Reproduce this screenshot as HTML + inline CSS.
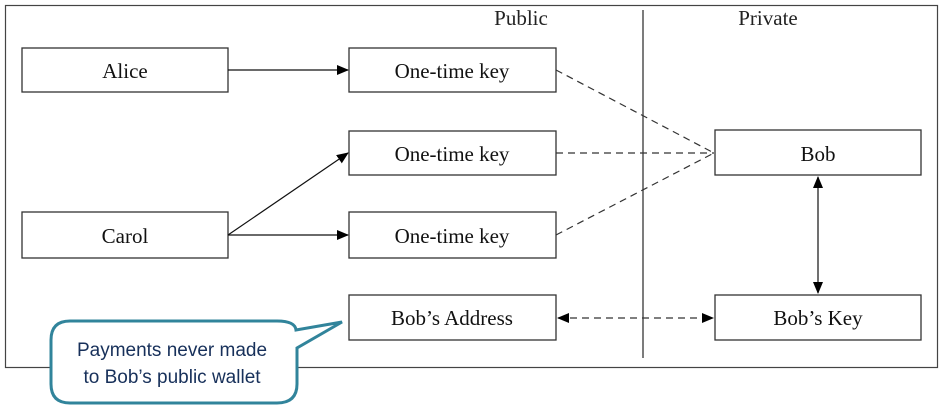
<!DOCTYPE html>
<html><head><style>body{margin:0;background:#fff}</style></head><body>
<svg width="942" height="410" xmlns="http://www.w3.org/2000/svg" font-family="Liberation Serif, serif" font-size="21" fill="none">
<defs><marker id="a" markerWidth="12" markerHeight="10" refX="11" refY="5" orient="auto" markerUnits="userSpaceOnUse"><path d="M0,0 L12,5 L0,10 Z" fill="#000"/></marker>
<marker id="s" markerWidth="12" markerHeight="10" refX="1" refY="5" orient="auto" markerUnits="userSpaceOnUse"><path d="M12,0 L0,5 L12,10 Z" fill="#000"/></marker></defs>
<rect x="5.5" y="5.5" width="932" height="362" stroke="#444" stroke-width="1.2"/>
<line x1="643" y1="10" x2="643" y2="358" stroke="#444" stroke-width="1.4"/>
<g fill="#222" text-anchor="middle"><text x="521" y="25">Public</text><text x="768" y="25">Private</text></g>
<g stroke="#333" stroke-width="1.3">
<rect x="22" y="48" width="206" height="44"/><rect x="22" y="212" width="206" height="46"/>
<rect x="349" y="48" width="207" height="44"/><rect x="349" y="131" width="207" height="44"/>
<rect x="349" y="212" width="207" height="46"/><rect x="349" y="295" width="207" height="45"/>
<rect x="715" y="130" width="206" height="45"/><rect x="715" y="295" width="206" height="45"/>
</g>
<g fill="#111" text-anchor="middle">
<text x="125" y="78">Alice</text><text x="125" y="243">Carol</text>
<text x="452" y="78">One-time key</text><text x="452" y="161">One-time key</text>
<text x="452" y="243">One-time key</text><text x="452" y="325">Bob’s Address</text>
<text x="818" y="161">Bob</text><text x="818" y="325">Bob’s Key</text>
</g>
<g stroke="#111" stroke-width="1.2">
<line x1="228" y1="70" x2="348" y2="70" marker-end="url(#a)"/>
<line x1="228" y1="235" x2="348" y2="153" marker-end="url(#a)"/>
<line x1="228" y1="235" x2="348" y2="235" marker-end="url(#a)"/>
<line x1="818" y1="177" x2="818" y2="293" marker-start="url(#s)" marker-end="url(#a)"/>
</g>
<g stroke="#333" stroke-width="1.2" stroke-dasharray="7,5">
<line x1="556" y1="70" x2="714" y2="153"/>
<line x1="556" y1="153" x2="714" y2="153"/>
<line x1="556" y1="235" x2="714" y2="153"/>
<line x1="558" y1="318" x2="713" y2="318" marker-start="url(#s)" marker-end="url(#a)"/>
</g>
<path d="M70,321 H277 Q295,321 296,330 L342,322 L297,348 V384 Q297,403 277,403 H70 Q51,403 51,384 V340 Q51,321 70,321 Z" fill="#fff" stroke="#31849B" stroke-width="3"/>
<g fill="#17305a" font-family="Liberation Sans, sans-serif" font-size="19" text-anchor="middle">
<text x="172" y="356">Payments never made</text><text x="172" y="383">to Bob’s public wallet</text></g>
</svg>
</body></html>
